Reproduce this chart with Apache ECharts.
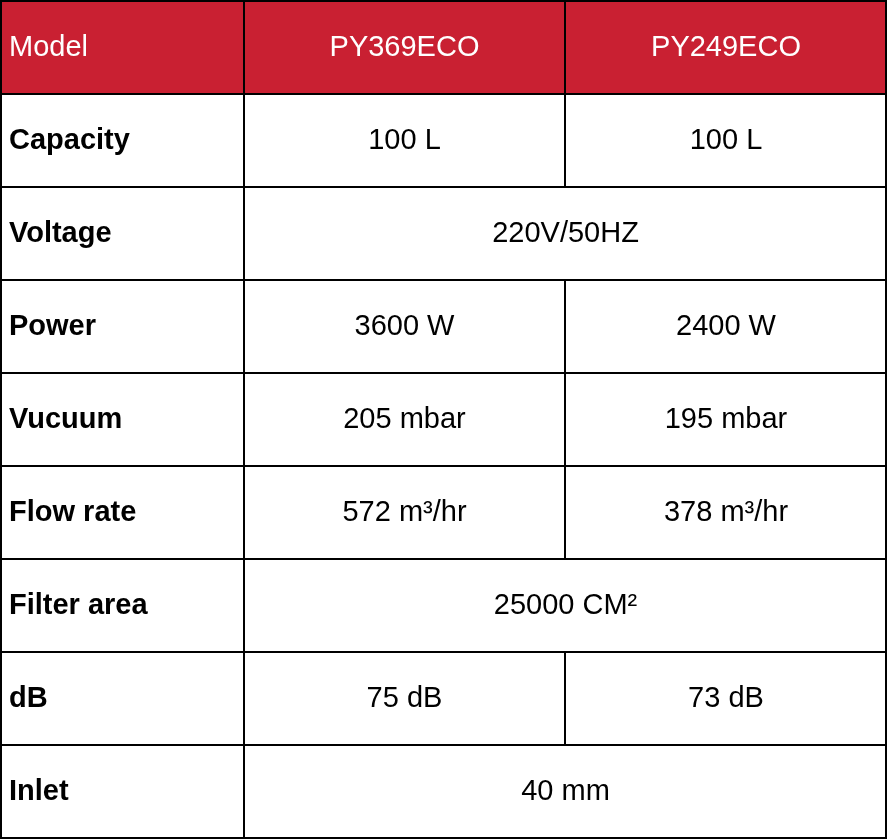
<!DOCTYPE html>
<html>
<head>
<meta charset="utf-8">
<script src="https://cdn.jsdelivr.net/npm/echarts@6/dist/echarts.min.js"></script>
<style>html,body{margin:0;padding:0;background:#fff}#chart{width:887px;height:839px}</style>
</head>
<body>
<div id="chart"></div>
<script>
// table content
const models = ['PY369ECO', 'PY249ECO'];
const rowLabels = ['Capacity', 'Voltage', 'Power', 'Vucuum', 'Flow rate', 'Filter area', 'dB', 'Inlet'];
const col1Values = ['100 L', '220V/50HZ', '3600 W', '205 mbar', '572 m³/hr', '25000 CM²', '75 dB', '40 mm'];
const col2Values = ['100 L', null, '2400 W', '195 mbar', '378 m³/hr', null, '73 dB', null];

const colEdges = [0, 244, 565, 887];

// cells: [row, colStart, colEnd, text, kind]
let cells = [];
cells.push([0, 0, 1, 'Model', 'head']);
models.forEach((m, i) => cells.push([0, i + 1, i + 2, m, 'head']));
rowLabels.forEach((lab, i) => {
  const r = i + 1;
  cells.push([r, 0, 1, lab, 'label']);
  if (col2Values[i] === null) {
    cells.push([r, 1, 3, col1Values[i], 'value']);
  } else {
    cells.push([r, 1, 2, col1Values[i], 'value']);
    cells.push([r, 2, 3, col2Values[i], 'value']);
  }
});

const chart = echarts.init(document.getElementById('chart'));
chart.setOption({
  animation: false,
  grid: {left: 0, right: 0, top: 1, bottom: 1},
  xAxis: {type: 'value', min: 0, max: 887, show: false},
  yAxis: {type: 'value', min: 0, max: 9, inverse: true, show: false},
  series: [{
    type: 'custom',
    data: cells,
    renderItem: function (params, api) {
      const row = api.value(0), c0 = api.value(1), c1 = api.value(2);
      const d = cells[params.dataIndex];
      const p0 = api.coord([colEdges[c0], row]);
      const p1 = api.coord([colEdges[c1], row + 1]);
      const kind = d[4];
      const x = Math.max(p0[0], 1), w = Math.min(p1[0], 886) - x;
      return {
        type: 'group',
        children: [{
          type: 'rect',
          shape: {x: x, y: p0[1], width: w, height: p1[1] - p0[1]},
          style: {fill: kind === 'head' ? '#c92032' : '#fff', stroke: '#000', lineWidth: 2}
        }, {
          type: 'text',
          style: {
            text: d[3],
            x: kind === 'value' || (kind === 'head' && c0 > 0) ? (p0[0] + p1[0]) / 2 : p0[0] + 9,
            y: (p0[1] + p1[1]) / 2,
            align: kind === 'value' || (kind === 'head' && c0 > 0) ? 'center' : 'left',
            verticalAlign: 'middle',
            fontFamily: 'Liberation Sans, Arial, sans-serif',
            fontSize: 29,
            fontWeight: kind === 'label' ? 'bold' : 'normal',
            fill: kind === 'head' ? '#fff' : '#000'
          }
        }]
      };
    }
  }]
});
</script>
</body>
</html>
